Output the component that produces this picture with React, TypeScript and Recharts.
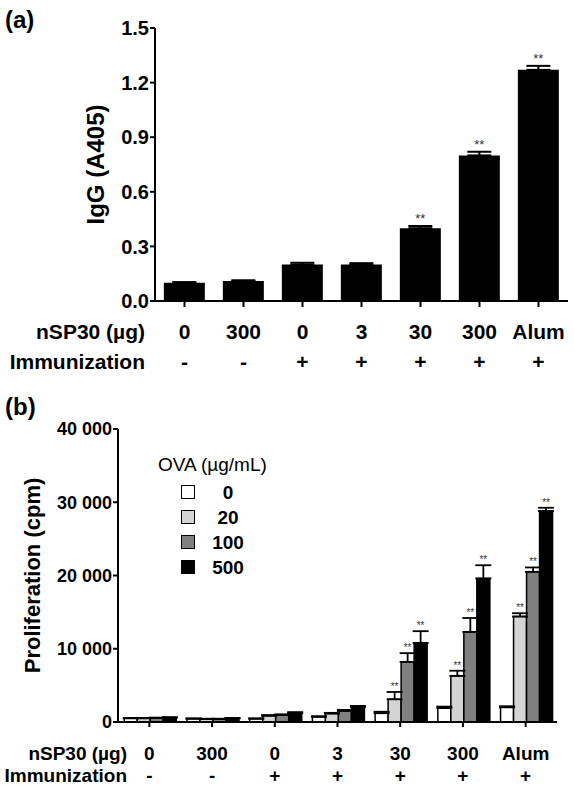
import React from 'react';
import { BarChart, Bar, XAxis, YAxis, ErrorBar, LabelList, Legend } from 'recharts';

const FONT = '"Liberation Sans", Arial, sans-serif';

// shared x categories
const doses = ['0', '300', '0', '3', '30', '300', 'Alum'];
const immunized = ['-', '-', '+', '+', '+', '+', '+'];

// panel (a): serum IgG
const igg = [0.1, 0.11, 0.2, 0.2, 0.4, 0.8, 1.27];
const iggErr = [0.004, 0.004, 0.01, 0.008, 0.012, 0.02, 0.022];
const iggSig = ['', '', '', '', '**', '**', '**'];
const iggTicks = [0, 0.3, 0.6, 0.9, 1.2, 1.5];

// panel (b): proliferation by OVA concentration
const ovaLevels = ['0', '20', '100', '500'];
const ovaColors = ['#ffffff', '#d4d4d4', '#808080', '#000000'];
const ova0 = [500, 450, 450, 700, 1200, 1900, 2000];
const ova20 = [500, 400, 850, 1150, 3100, 6300, 14400];
const ova100 = [550, 400, 950, 1500, 8200, 12300, 20500];
const ova500 = [600, 500, 1200, 2050, 10800, 19600, 28800];
const ova0Err = [50, 50, 50, 100, 200, 200, 150];
const ova20Err = [50, 50, 100, 100, 1000, 700, 450];
const ova100Err = [50, 50, 100, 150, 1200, 1900, 600];
const ova500Err = [50, 50, 150, 150, 1600, 1800, 450];
const ova20Sig = ['', '', '', '', '**', '**', '**'];
const ova100Sig = ['', '', '', '', '**', '**', '**'];
const ova500Sig = ['', '', '', '', '**', '**', '**'];
const prolTicks = [0, 10000, 20000, 30000, 40000];

const dataA = doses.map((d, i) => ({
  id: i,
  igg: igg[i],
  err: [0, iggErr[i]],
  sig: iggSig[i],
}));

const seriesB = [
  { vals: ova0, errs: ova0Err, sig: doses.map(() => '') },
  { vals: ova20, errs: ova20Err, sig: ova20Sig },
  { vals: ova100, errs: ova100Err, sig: ova100Sig },
  { vals: ova500, errs: ova500Err, sig: ova500Sig },
];

const dataB = doses.map((d, i) => {
  const row: any = { id: i };
  seriesB.forEach((s, k) => {
    row['v' + k] = s.vals[i];
    row['e' + k] = [0, s.errs[i]];
    row['s' + k] = s.sig[i];
  });
  return row;
});

// x tick: two label rows plus row titles on the left
function makeTick(fs: number, d1: number, d2: number, titleX: number) {
  return (props: any) => {
    const { x, y, payload } = props;
    const i = Number(payload.value);
    const style = { fontFamily: FONT, fontSize: fs, fontWeight: 700, fill: '#000' };
    return (
      <g>
        <text x={x} y={y + d1} textAnchor="middle" {...style}>{doses[i]}</text>
        <text x={x} y={y + d2} textAnchor="middle" {...style}>{immunized[i]}</text>
        {i === 0 && (
          <>
            <text x={titleX} y={y + d1} textAnchor="end" {...style}>nSP30 (µg)</text>
            <text x={titleX} y={y + d2} textAnchor="end" {...style}>Immunization</text>
          </>
        )}
      </g>
    );
  };
}

// "**" above the error bar cap
function makeSig(vals: number[], errs: number[], sig: string[], fs: number, gap: number) {
  return (props: any) => {
    const { x, y, width, height, index } = props;
    if (!sig[index]) return null;
    const errPx = (errs[index] * Number(height)) / vals[index];
    return (
      <text
        x={Number(x) + Number(width) / 2}
        y={Number(y) - errPx - gap}
        textAnchor="middle"
        fontFamily={FONT}
        fontSize={fs}
        fill="#333"
      >
        **
      </text>
    );
  };
}

function yTitle(text: string, dx: number, fs: number) {
  return (props: any) => {
    const vb = props.viewBox;
    const cx = vb.x + dx;
    const cy = vb.y + vb.height / 2;
    return (
      <text
        x={cx}
        y={cy}
        transform={`rotate(-90, ${cx}, ${cy})`}
        textAnchor="middle"
        dominantBaseline="central"
        fontFamily={FONT}
        fontSize={fs}
        fontWeight={700}
        fill="#000"
      >
        {text}
      </text>
    );
  };
}

const fmtK = (v: number) => (v === 0 ? '0' : `${v / 1000} 000`);

function OvaLegend(props: any) {
  const { payload } = props;
  return (
    <div style={{ position: 'relative', width: 150, fontFamily: FONT, color: '#000', textAlign: 'left' }}>
      <div style={{ fontSize: 19, height: 30, lineHeight: '30px', whiteSpace: 'nowrap' }}>OVA (µg/mL)</div>
      {(payload || []).map((p: any, k: number) => (
        <div key={k} style={{ position: 'relative', height: 25 }}>
          <span
            style={{
              position: 'absolute',
              left: 23,
              top: 5,
              width: 12,
              height: 12,
              background: ovaColors[k],
              border: '1.5px solid #000',
            }}
          />
          <span
            style={{
              position: 'absolute',
              left: 52,
              top: 0,
              width: 36,
              lineHeight: '25px',
              textAlign: 'center',
              fontSize: 19,
              fontWeight: 700,
            }}
          >
            {ovaLevels[k]}
          </span>
        </div>
      ))}
    </div>
  );
}

const panelLabel: React.CSSProperties = {
  position: 'absolute',
  fontFamily: FONT,
  fontWeight: 700,
  fontSize: 24,
  left: 5,
};

export default function App() {
  return (
    <div style={{ position: 'absolute', left: 0, top: 0, width: 574, height: 788, background: '#fff' }}>
      <div style={{ ...panelLabel, top: 6 }}>(a)</div>
      <div style={{ position: 'absolute', left: 0, top: 0 }}>
        <BarChart
          width={574}
          height={380}
          data={dataA}
          margin={{ top: 28, right: 6, left: 0, bottom: 0 }}
          barCategoryGap="15%"
        >
          <XAxis
            dataKey="id"
            height={79}
            interval={0}
            axisLine={{ stroke: '#000', strokeWidth: 2 }}
            tickLine={{ stroke: '#000', strokeWidth: 2 }}
            tickSize={6}
            tickMargin={0}
            tick={makeTick(21, 32, 62, 145)}
          />
          <YAxis
            width={155}
            domain={[0, 1.5]}
            ticks={iggTicks}
            interval={0}
            tickFormatter={(v: number) => v.toFixed(1)}
            axisLine={{ stroke: '#000', strokeWidth: 2 }}
            tickLine={{ stroke: '#000', strokeWidth: 2 }}
            tickSize={5}
            tickMargin={1}
            tick={{ fill: '#000', fontSize: 20, fontWeight: 700, fontFamily: FONT }}
            label={{ content: yTitle('IgG (A405)', 95, 24) }}
          />
          <Bar dataKey="igg" fill="#000" isAnimationActive={false}>
            <ErrorBar dataKey="err" width={12} strokeWidth={2} stroke="#000" direction="y" />
            <LabelList dataKey="sig" content={makeSig(igg, iggErr, iggSig, 13, 3)} />
          </Bar>
        </BarChart>
      </div>

      <div style={{ ...panelLabel, top: 393 }}>(b)</div>
      <div style={{ position: 'absolute', left: 0, top: 380 }}>
        <BarChart
          width={574}
          height={408}
          data={dataB}
          margin={{ top: 49, right: 17, left: 0, bottom: 0 }}
          barCategoryGap="10%"
          barGap={0}
        >
          <XAxis
            dataKey="id"
            height={66}
            interval={0}
            axisLine={{ stroke: '#000', strokeWidth: 2 }}
            tickLine={{ stroke: '#000', strokeWidth: 2 }}
            tickSize={5}
            tickMargin={0}
            tick={makeTick(19, 33, 55, 127)}
          />
          <YAxis
            width={118}
            domain={[0, 40000]}
            ticks={prolTicks}
            interval={0}
            tickFormatter={fmtK}
            axisLine={{ stroke: '#000', strokeWidth: 2 }}
            tickLine={{ stroke: '#000', strokeWidth: 2 }}
            tickSize={5}
            tickMargin={1}
            tick={{ fill: '#000', fontSize: 18, fontWeight: 700, fontFamily: FONT }}
            label={{ content: yTitle('Proliferation (cpm)', 32, 22) }}
          />
          <Legend
            layout="horizontal"
            verticalAlign="middle"
            align="center"
            content={<OvaLegend />}
            wrapperStyle={{ top: 70, left: 158, width: 150 }}
          />
          {seriesB.map((s, k) => (
            <Bar
              key={k}
              dataKey={'v' + k}
              name={ovaLevels[k]}
              fill={ovaColors[k]}
              stroke="#000"
              strokeWidth={1.5}
              isAnimationActive={false}
            >
              <ErrorBar dataKey={'e' + k} width={8} strokeWidth={1.8} stroke="#000" direction="y" />
              <LabelList dataKey={'s' + k} content={makeSig(s.vals, s.errs, s.sig, 10, 2)} />
            </Bar>
          ))}
        </BarChart>
      </div>
    </div>
  );
}
